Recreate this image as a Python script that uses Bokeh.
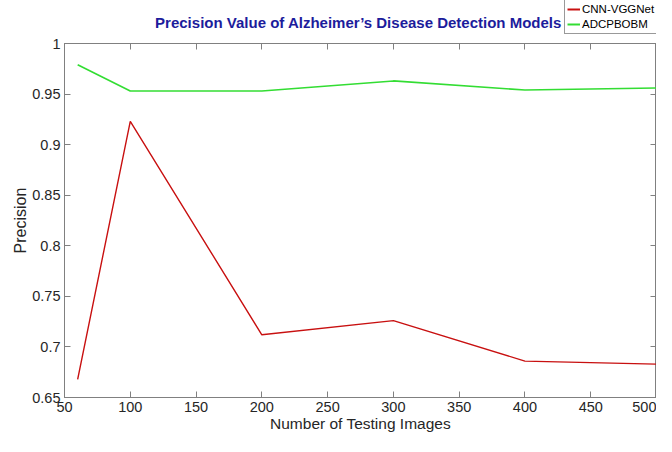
from bokeh.plotting import figure
from bokeh.layouts import column
from bokeh.models import Legend, LegendItem, LinearAxis, FixedTicker, Range1d, Label
from bokeh.embed import file_html
from bokeh.resources import INLINE

# Data
images = [60, 100, 200, 300, 400, 500]
cnn_vggnet = [0.668, 0.923, 0.712, 0.726, 0.686, 0.683]
adcpbobm = [0.979, 0.953, 0.953, 0.963, 0.954, 0.956]
series_names = ["CNN-VGGNet", "ADCPBOBM"]
series_colors = ["#c81010", "#33dd33"]
chart_title = "Precision Value of Alzheimer\u2019s Disease Detection Models"

x_ticks = [50, 100, 150, 200, 250, 300, 350, 400, 450, 500]
y_ticks = [0.65, 0.7, 0.75, 0.8, 0.85, 0.9, 0.95, 1.0]
y_tick_labels = ["0.65", "0.7", "0.75", "0.8", "0.85", "0.9", "0.95", "1"]

FONT = "Liberation Sans"
AXIS_COL = "#808080"
TXT_COL = "#262626"
W = 656
HEADER_H = 35
LEFT = 64
TOP_GAP = 8

# ---- header strip: title + legend (frame is aligned with the main chart's frame) ----
h = figure(width=W, height=HEADER_H, output_backend="svg", toolbar_location=None,
           x_range=Range1d(LEFT, W), y_range=Range1d(0, HEADER_H),
           min_border=0, min_border_left=LEFT, min_border_right=0,
           min_border_top=0, min_border_bottom=0)
h.grid.visible = False
h.outline_line_color = None
h.xaxis.visible = False
h.yaxis.visible = False

title = Label(x=(LEFT + W) / 2 - 2, y=HEADER_H - 22, text=chart_title,
              text_align="center", text_baseline="middle",
              text_font=FONT, text_font_size="15px", text_font_style="bold",
              text_color="#1c1c9c")
h.add_layout(title)

# legend-only line renderers, kept below the visible strip
dummy = [h.line(x=[LEFT, LEFT + 1], y=[-50, -50], line_color=c, line_width=2) for c in series_colors]
legend = Legend(items=[LegendItem(label=n, renderers=[r]) for n, r in zip(series_names, dummy)],
                location=(564 - LEFT, 1))
legend.label_text_font = FONT
legend.label_text_font_size = "11.5px"
legend.label_text_color = "black"
legend.label_height = 14
legend.glyph_height = 14
legend.glyph_width = 13
legend.label_standoff = 2
legend.padding = 2
legend.spacing = 1
legend.margin = 0
legend.border_line_color = "#333333"
legend.border_line_width = 1
legend.background_fill_alpha = 1
h.add_layout(legend)

# ---- main chart ----
p = figure(width=W, height=436 - HEADER_H, output_backend="svg", toolbar_location=None,
           x_range=Range1d(50, 500), y_range=Range1d(0.65, 1.0),
           min_border_left=LEFT, min_border_right=0, min_border_top=TOP_GAP, min_border_bottom=39)

p.grid.visible = False
p.outline_line_color = AXIS_COL
p.background_fill_color = "white"
p.border_fill_color = "white"

p.line(images, cnn_vggnet, line_color=series_colors[0], line_width=1.4)
p.line(images, adcpbobm, line_color=series_colors[1], line_width=1.6)

def style_axis(ax):
    ax.axis_line_color = AXIS_COL
    ax.major_tick_line_color = AXIS_COL
    ax.minor_tick_line_color = None
    ax.major_tick_in = 6
    ax.major_tick_out = 0
    ax.major_label_text_font = FONT
    ax.major_label_text_font_size = "14.5px"
    ax.major_label_text_color = TXT_COL
    ax.axis_label_text_font = FONT
    ax.axis_label_text_font_size = "15.5px"
    ax.axis_label_text_color = TXT_COL
    ax.axis_label_text_font_style = "normal"

xa = p.xaxis[0]
xa.ticker = FixedTicker(ticks=x_ticks)
xa.axis_label = "Number of Testing Images"
style_axis(xa)
xa.axis_label_standoff = 0
xa.major_label_standoff = 4

ya = p.yaxis[0]
ya.ticker = FixedTicker(ticks=y_ticks)
ya.major_label_overrides = {t: l for t, l in zip(y_ticks, y_tick_labels)}
ya.axis_label = "Precision"
style_axis(ya)
ya.axis_label_text_font_size = "16px"
ya.axis_label_standoff = 0
ya.major_label_standoff = 4

top = LinearAxis(ticker=FixedTicker(ticks=x_ticks), major_label_overrides={t: "" for t in x_ticks})
style_axis(top)
top.major_label_standoff = 0
p.add_layout(top, "above")
right = LinearAxis(ticker=FixedTicker(ticks=y_ticks), major_label_overrides={t: "" for t in y_ticks})
style_axis(right)
right.major_label_standoff = 0
p.add_layout(right, "right")

layout = column(h, p, spacing=0)
open("out.html", "w").write(file_html(layout, INLINE))
